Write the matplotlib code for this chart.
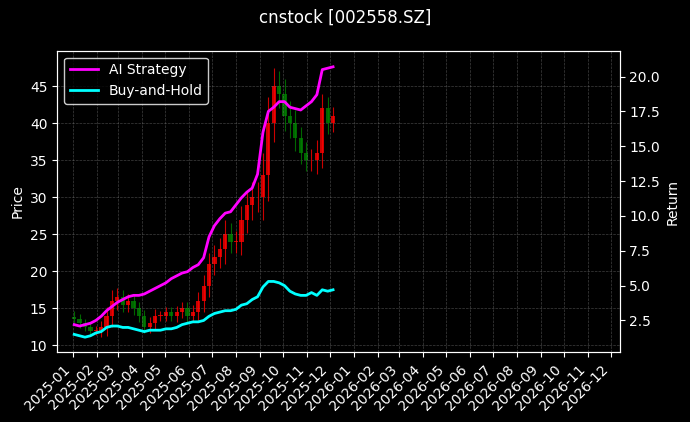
import matplotlib
matplotlib.use("Agg")
import matplotlib.pyplot as plt
import matplotlib.dates as mdates
import pandas as pd

# weekly closing prices
close = [13.5, 13.0, 12.5, 12.0, 12.0, 12.5, 14.0, 16.0, 16.5, 15.5, 16.0, 15.0,
         14.0, 12.5, 13.0, 14.0, 14.0, 14.5, 14.0, 14.5, 15.0, 14.0, 14.5, 16.0, 18.0,
         21.0, 22.0, 23.0, 25.0, 24.0, 24.0, 27.0, 29.0, 30.0, 30.0, 33.0, 40.0, 45.0,
         44.0, 41.0, 40.0, 38.0, 36.0, 35.0, 35.0, 36.0, 42.0, 40.0, 41.0]
high_pad = [0.8, 0.7, 0.6, 0.5, 0.6, 0.8, 1.2, 1.5, 1.2, 1.0, 1.0, 0.9,
            0.8, 0.8, 0.8, 0.9, 0.7, 0.7, 0.7, 0.8, 0.8, 0.8, 0.9, 1.2, 1.5,
            1.5, 1.5, 1.5, 2.0, 1.5, 1.5, 1.8, 1.8, 2.0, 2.0, 3.0, 3.5, 2.5,
            2.0, 2.0, 2.0, 1.8, 1.5, 1.5, 1.5, 1.8, 2.0, 1.5, 1.2]
strategy = [2.2, 2.1, 2.2, 2.3, 2.5, 2.8, 3.2, 3.5, 3.8, 4.0, 4.2, 4.3,
            4.3, 4.4, 4.6, 4.8, 5.0, 5.2, 5.5, 5.7, 5.9, 6.0, 6.3, 6.5, 7.0,
            8.5, 9.3, 9.8, 10.2, 10.3, 10.8, 11.3, 11.7, 12.0, 13.0, 16.0, 17.5, 17.8,
            18.2, 18.2, 17.8, 17.7, 17.6, 17.9, 18.2, 18.7, 20.5, 20.6, 20.7]
buyhold = [1.5, 1.4, 1.3, 1.4, 1.6, 1.7, 2.0, 2.1, 2.1, 2.0, 2.0, 1.9,
           1.8, 1.7, 1.8, 1.8, 1.8, 1.9, 1.9, 2.0, 2.2, 2.3, 2.4, 2.4, 2.5,
           2.8, 3.0, 3.1, 3.2, 3.2, 3.3, 3.6, 3.7, 4.0, 4.2, 4.9, 5.3, 5.3,
           5.2, 5.0, 4.6, 4.4, 4.3, 4.3, 4.5, 4.3, 4.7, 4.6, 4.7]

dates = pd.date_range("2025-01-03", periods=len(close), freq="7D")
opens = [close[0] + 0.3] + close[:-1]

plt.style.use("dark_background")
fig, ax = plt.subplots(figsize=(6.9, 4.22), dpi=100)
fig.patch.set_facecolor("black")
ax.set_facecolor("black")

for d, o, c, p in zip(dates, opens, close, high_pad):
    col = "red" if c >= o else "green"
    hi = max(o, c) + p
    lo = min(o, c) - p
    ax.vlines(d, lo, hi, color=col, linewidth=0.8, alpha=0.8)
    ax.bar(d, abs(c - o) if c != o else 0.1, bottom=min(o, c), width=5.5,
           color=col, alpha=0.8)

ax.set_ylabel("Price")
ax.grid(True, linestyle="--", linewidth=0.5, color="gray", alpha=0.5)

ax2 = ax.twinx()
ax2.plot(dates, strategy, color="magenta", linewidth=2, label="AI Strategy")
ax2.plot(dates, buyhold, color="cyan", linewidth=2, label="Buy-and-Hold")
ax2.set_ylabel("Return")
ax2.set_ylim(0.21, 21.86)
ax.set_ylim(9.06, 49.8)

ax.set_xlim(pd.Timestamp("2024-12-12"), pd.Timestamp("2026-12-12"))
ax.xaxis.set_major_locator(mdates.MonthLocator())
ax.xaxis.set_major_formatter(mdates.DateFormatter("%Y-%m"))
plt.setp(ax.get_xticklabels(), rotation=45, ha="right")

ax2.legend(loc="upper left", facecolor="black", edgecolor="white")
fig.suptitle("cnstock [002558.SZ]")
fig.subplots_adjust(left=0.083, right=0.898, top=0.88, bottom=0.165)
fig.savefig("out.png", dpi=100, facecolor="black")
